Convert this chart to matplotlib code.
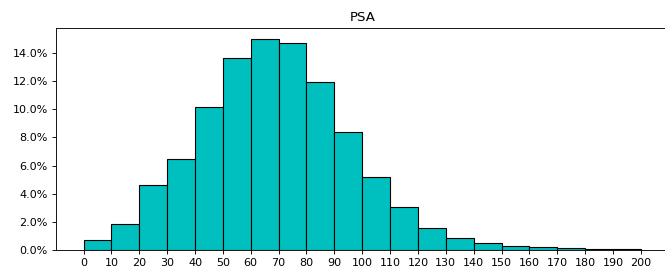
import matplotlib
matplotlib.use('Agg')
import matplotlib.pyplot as plt
import numpy as np
from matplotlib.ticker import PercentFormatter

# bin edges of PSA and share of samples per bin (fraction)
bin_edges = list(range(0, 210, 10))
shares = [0.0071, 0.0184, 0.0463, 0.0647, 0.1018, 0.1360, 0.1500, 0.1469,
          0.1195, 0.0841, 0.0519, 0.0307, 0.0160, 0.0089, 0.0050, 0.0030,
          0.0021, 0.0014, 0.0011, 0.0007]
tick_values = list(range(0, 210, 10))

fig = plt.figure(figsize=(665 / 80, 269 / 80), dpi=80)
ax = fig.add_axes([55.7 / 665, 18.7 / 269, 613 / 665, 222.3 / 269])

ax.hist(bin_edges[:-1], bins=bin_edges, weights=shares, color='c',
        edgecolor='k', linewidth=1.0)
ax.set_title('PSA')
ax.set_xticks(tick_values)
ax.yaxis.set_major_formatter(PercentFormatter(1.0, decimals=1))
# the right spine lies just outside the cropped image
ax.spines['right'].set_visible(False)

fig.savefig('out.png', dpi=80)
